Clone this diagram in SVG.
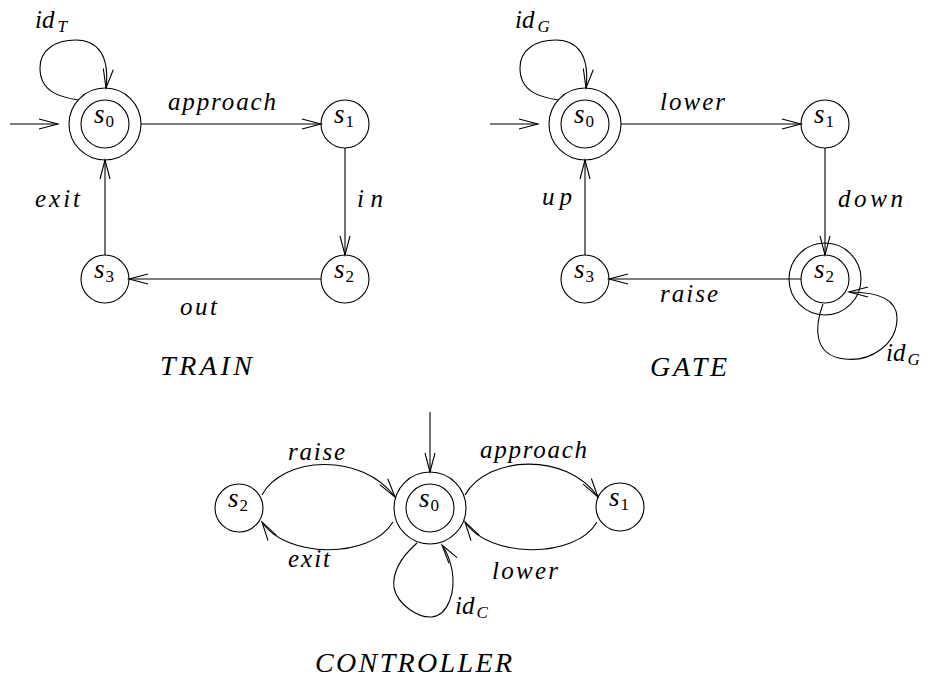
<svg xmlns="http://www.w3.org/2000/svg" width="930" height="684" viewBox="0 0 930 684">
<style>
.c{fill:none;stroke:#000;stroke-width:1.1}
.e{fill:none;stroke:#000;stroke-width:1.1;marker-end:url(#ah)}
text{font-family:"Liberation Serif","Times New Roman",serif;fill:#000}
.l{font-size:25px;font-style:italic}
.s{font-size:27px;font-style:italic}
.t{font-size:28px;font-style:italic}
.n{font-style:normal;font-size:17px}
.si{font-style:italic;font-size:17px}
</style>
<defs>
<marker id="ah" markerUnits="userSpaceOnUse" markerWidth="24" markerHeight="14" refX="0" refY="0" viewBox="-21 -7 24 14" orient="auto" overflow="visible">
<path d="M-19,-5 L0,0 L-19,5" fill="none" stroke="#000" stroke-width="1.1"/>
</marker>
</defs>
<rect width="930" height="684" fill="#fff"/>

<g id="connectors">
<!-- TRAIN -->
<path class="e" d="M10,124 L58,124"/>
<path class="e" d="M78,100 C60,97 40,92 40,68 C40,50 55,40 76,40 C97,40 110,55 106,88"/>
<path class="e" d="M141,124 L321,124"/>
<path class="e" d="M345,148 L345,255"/>
<path class="e" d="M321,279 L129,279"/>
<path class="e" d="M105,255 L105,160"/>
<!-- GATE -->
<path class="e" d="M490,124 L538,124"/>
<path class="e" d="M558,100 C540,97 520,92 520,68 C520,50 535,40 556,40 C577,40 590,55 586,88"/>
<path class="e" d="M621,124 L801,124"/>
<path class="e" d="M825,148 L825,255"/>
<path class="e" d="M801,279 L609,279"/>
<path class="e" d="M585,255 L585,160"/>
<path class="e" d="M823,304 C815,325 812,356 845,359 C870,362 897,345 897,318 C897,300 880,292 849,292"/>
<!-- CONTROLLER -->
<path class="e" d="M430,412 L430,472"/>
<path class="e" d="M262,495 C283,456 362,452 395,497"/>
<path class="e" d="M393,522 C370,560 285,558 262,522"/>
<path class="e" d="M465,495 C488,455 567,452 598,497"/>
<path class="e" d="M597,522 C575,560 488,558 465,522"/>
<path class="e" d="M417,543 C400,558 392,572 394,588 C398,605 418,618 432,617 C448,615 456,592 452,570 C450,560 447,552 442,545"/>
</g>

<g id="edge-labels">
<text class="l" x="35" y="28">id<tspan class="si" dx="3" dy="4">T</tspan></text>
<text class="l" x="168" y="110" textLength="108" lengthAdjust="spacing">approach</text>
<text class="l" x="357" y="207" textLength="26" lengthAdjust="spacing">in</text>
<text class="l" x="35" y="207" textLength="45" lengthAdjust="spacing">exit</text>
<text class="l" x="180" y="315" textLength="37" lengthAdjust="spacing">out</text>

<text class="l" x="515" y="28">id<tspan class="si" dx="3" dy="4">G</tspan></text>
<text class="l" x="660" y="110" textLength="65" lengthAdjust="spacing">lower</text>
<text class="l" x="838" y="207" textLength="65" lengthAdjust="spacing">down</text>
<text class="l" x="542" y="205" textLength="30" lengthAdjust="spacing">up</text>
<text class="l" x="660" y="302" textLength="58" lengthAdjust="spacing">raise</text>
<text class="l" x="886" y="361">id<tspan class="si" dx="2" dy="4">G</tspan></text>

<text class="l" x="288" y="460" textLength="57" lengthAdjust="spacing">raise</text>
<text class="l" x="288" y="567" textLength="42" lengthAdjust="spacing">exit</text>
<text class="l" x="480" y="458" textLength="107" lengthAdjust="spacing">approach</text>
<text class="l" x="492" y="579" textLength="66" lengthAdjust="spacing">lower</text>
<text class="l" x="455" y="614">id<tspan class="si" dx="2" dy="4">C</tspan></text>
</g>

<g id="train-s0">
<circle class="c" cx="105" cy="124" r="36"/>
<circle class="c" cx="105" cy="124" r="24"/>
<text class="s" x="94" y="123">s<tspan class="n" dx="1" dy="4">0</tspan></text>
</g>
<g id="train-s1">
<circle class="c" cx="345" cy="124" r="24"/>
<text class="s" x="334" y="123">s<tspan class="n" dx="1" dy="4">1</tspan></text>
</g>
<g id="train-s2">
<circle class="c" cx="345" cy="279" r="24"/>
<text class="s" x="334" y="278">s<tspan class="n" dx="1" dy="4">2</tspan></text>
</g>
<g id="train-s3">
<circle class="c" cx="105" cy="279" r="24"/>
<text class="s" x="94" y="278">s<tspan class="n" dx="1" dy="4">3</tspan></text>
</g>
<g id="train-title">
<text class="t" x="160" y="375" textLength="92" lengthAdjust="spacing">TRAIN</text>
</g>

<g id="gate-s0">
<circle class="c" cx="585" cy="124" r="36"/>
<circle class="c" cx="585" cy="124" r="24"/>
<text class="s" x="574" y="123">s<tspan class="n" dx="1" dy="4">0</tspan></text>
</g>
<g id="gate-s1">
<circle class="c" cx="825" cy="124" r="24"/>
<text class="s" x="814" y="123">s<tspan class="n" dx="1" dy="4">1</tspan></text>
</g>
<g id="gate-s2">
<circle class="c" cx="825" cy="279" r="36"/>
<circle class="c" cx="825" cy="279" r="24"/>
<text class="s" x="814" y="278">s<tspan class="n" dx="1" dy="4">2</tspan></text>
</g>
<g id="gate-s3">
<circle class="c" cx="585" cy="279" r="24"/>
<text class="s" x="574" y="278">s<tspan class="n" dx="1" dy="4">3</tspan></text>
</g>
<g id="gate-title">
<text class="t" x="650" y="376" textLength="77" lengthAdjust="spacing">GATE</text>
</g>

<g id="ctrl-s0">
<circle class="c" cx="430" cy="508" r="36"/>
<circle class="c" cx="430" cy="508" r="24"/>
<text class="s" x="419" y="507">s<tspan class="n" dx="1" dy="4">0</tspan></text>
</g>
<g id="ctrl-s1">
<circle class="c" cx="620" cy="507" r="24"/>
<text class="s" x="609" y="506">s<tspan class="n" dx="1" dy="4">1</tspan></text>
</g>
<g id="ctrl-s2">
<circle class="c" cx="239" cy="508" r="24"/>
<text class="s" x="228" y="507">s<tspan class="n" dx="1" dy="4">2</tspan></text>
</g>
<g id="ctrl-title">
<text class="t" x="315" y="672" textLength="197" lengthAdjust="spacing">CONTROLLER</text>
</g>
</svg>
